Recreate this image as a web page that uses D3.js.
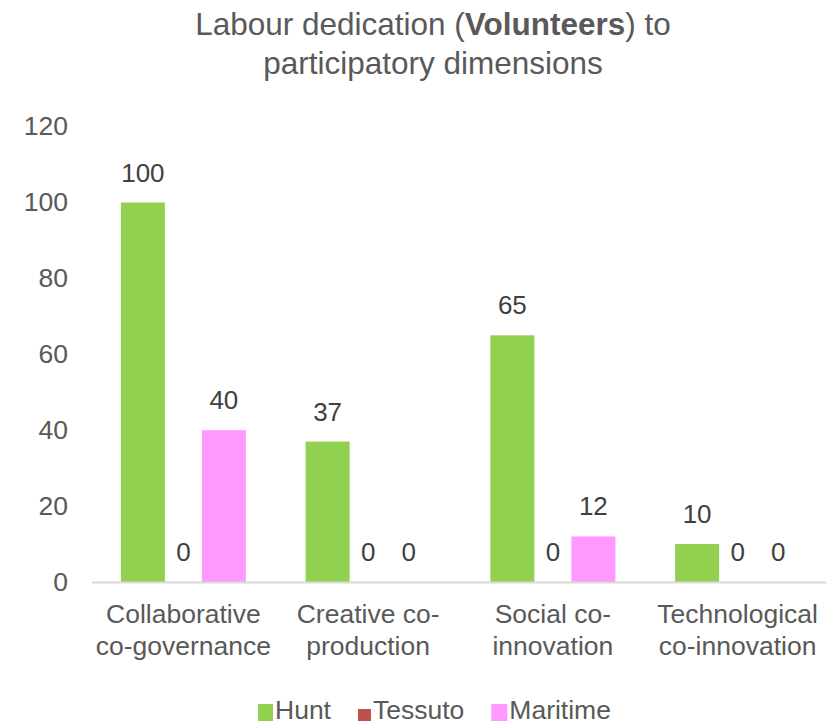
<!DOCTYPE html>
<html>
<head>
<meta charset="utf-8">
<script src="https://cdn.jsdelivr.net/npm/d3@7"></script>
<style>
  html, body { margin: 0; padding: 0; background: #fff; }
  svg { display: block; }
  text { font-family: "Liberation Sans", Arial, Helvetica, sans-serif; }
</style>
</head>
<body>
<svg id="chart" width="826" height="726"></svg>
<script>
// Data
const categories = [
  ["Collaborative", "co-governance"],
  ["Creative co-", "production"],
  ["Social co-", "innovation"],
  ["Technological", "co-innovation"]
];
const seriesNames = ["Hunt", "Tessuto", "Maritime"];
const hunt     = [100, 37, 65, 10];
const tessuto  = [0, 0, 0, 0];
const maritime = [40, 0, 12, 0];
const yTicks   = [0, 20, 40, 60, 80, 100, 120];

const seriesValues = [hunt, tessuto, maritime];
const colors = ["#92D050", "#C0504D", "#FF99FF"];

const svg = d3.select("#chart");
const W = 826, H = 726;
const axisGrey = "#595959";

// Title
const title = svg.append("text")
  .attr("x", 433).attr("y", 35)
  .attr("text-anchor", "middle")
  .attr("font-size", 31.5)
  .attr("fill", axisGrey);
title.append("tspan").text("Labour dedication (");
title.append("tspan").attr("font-weight", "bold").text("Volunteers");
title.append("tspan").text(") to");
svg.append("text")
  .attr("x", 433).attr("y", 74)
  .attr("text-anchor", "middle")
  .attr("font-size", 31.5)
  .attr("fill", axisGrey)
  .text("participatory dimensions");

// Scales
const catKeys = categories.map((c, i) => i);
const x0 = d3.scaleBand().domain(catKeys).range([91, 830]).padding(0);
const x1 = d3.scaleBand().domain(seriesNames).range([-60.75, 60.75]).padding(0);
const y = d3.scaleLinear().domain([0, 120]).range([582, 126.6]);
const barW = 44;

// Y tick labels (no gridlines)
svg.append("g").selectAll("text")
  .data(yTicks)
  .join("text")
  .attr("x", 68)
  .attr("y", d => y(d) + 8.5)
  .attr("text-anchor", "end")
  .attr("font-size", 26.5)
  .attr("fill", axisGrey)
  .text(d => d);

// Flatten series into bar records
const bars = [];
seriesNames.forEach((s, si) => {
  seriesValues[si].forEach((v, ci) => {
    bars.push({ series: s, si, ci, value: v });
  });
});
const cx = d => x0(d.ci) + x0.bandwidth() / 2 + x1(d.series) + x1.bandwidth() / 2;

// Bars
svg.append("g").selectAll("rect")
  .data(bars.filter(d => d.value > 0))
  .join("rect")
  .attr("x", d => cx(d) - barW / 2)
  .attr("y", d => y(d.value))
  .attr("width", barW)
  .attr("height", d => y(0) - y(d.value))
  .attr("fill", d => colors[d.si]);

// Category axis line
svg.append("line")
  .attr("x1", 92).attr("x2", W)
  .attr("y1", 582.5).attr("y2", 582.5)
  .attr("stroke", "#D9D9D9")
  .attr("stroke-width", 2);

// Value labels
svg.append("g").selectAll("text")
  .data(bars)
  .join("text")
  .attr("x", d => cx(d))
  .attr("y", d => y(d.value) - 21)
  .attr("text-anchor", "middle")
  .attr("font-size", 26)
  .attr("fill", "#404040")
  .text(d => d.value);

// Category labels (two lines each)
const catG = svg.append("g").selectAll("text")
  .data(categories)
  .join("text")
  .attr("text-anchor", "middle")
  .attr("font-size", 26.5)
  .attr("fill", axisGrey);
catG.each(function(lines, i) {
  const t = d3.select(this);
  const xc = x0(i) + x0.bandwidth() / 2;
  lines.forEach((ln, k) => {
    t.append("tspan").attr("x", xc).attr("y", 623 + k * 32).text(ln);
  });
});

// Legend
const swatches = [
  { w: 15, h: 17, dy: -15 },
  { w: 13, h: 12, dy: -10 },
  { w: 16, h: 17, dy: -15 }
];
let lx = 258;
const legendBaseline = 719;
seriesNames.forEach((s, i) => {
  const sw = swatches[i];
  svg.append("rect")
    .attr("x", lx).attr("y", legendBaseline + sw.dy)
    .attr("width", sw.w).attr("height", sw.h)
    .attr("fill", colors[i]);
  const t = svg.append("text")
    .attr("x", lx + sw.w + 2).attr("y", legendBaseline)
    .attr("font-size", 26.5)
    .attr("fill", axisGrey)
    .text(s);
  lx += sw.w + 2 + t.node().getComputedTextLength() + 27;
});
</script>
</body>
</html>
